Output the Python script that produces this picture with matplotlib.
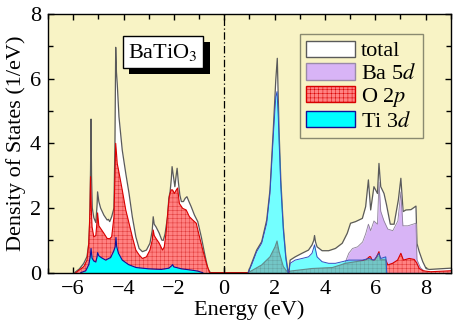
import matplotlib
matplotlib.use('Agg')
import matplotlib.pyplot as plt
import matplotlib.patheffects as pe
from matplotlib.patches import Patch
from matplotlib.ticker import MultipleLocator
import numpy as np

plt.rcParams['font.family'] = ['Liberation Serif', 'DejaVu Serif']
plt.rcParams['mathtext.fontset'] = 'stix'
plt.rcParams['hatch.linewidth'] = 0.35

# ---------------- data (energy in eV, DOS in 1/eV) ----------------
total_E = [-5.95, -5.75, -5.58, -5.45, -5.38, -5.34, -5.31, -5.29, -5.27, -5.24, -5.18, -5.10,
           -5.05, -5.03, -4.98, -4.91, -4.78, -4.65, -4.60, -4.55, -4.47, -4.38, -4.34, -4.31,
           -4.28, -4.25, -4.18, -4.05, -3.91, -3.78, -3.65, -3.51, -3.38, -3.25, -3.09, -2.95,
           -2.86, -2.82, -2.78, -2.71, -2.58, -2.48, -2.42, -2.35, -2.25, -2.20, -2.15, -2.10,
           -2.07, -2.02, -1.96, -1.91, -1.87, -1.82, -1.76, -1.70, -1.62, -1.55, -1.48, -1.40,
           -1.31, -1.18, -1.05, -0.91, -0.78, -0.65, -0.55,
           0.95, 1.09, 1.29, 1.49, 1.69, 1.82, 1.95, 2.05, 2.11, 2.18, 2.25, 2.35, 2.45, 2.53,
           2.57, 2.62, 2.82, 3.09, 3.35, 3.49, 3.56, 3.59, 3.63, 3.69, 3.89, 4.15, 4.42, 4.69,
           4.89, 5.02, 5.22, 5.49, 5.62, 5.73, 5.82, 5.95, 6.09, 6.15, 6.22, 6.35, 6.45, 6.60,
           6.75, 6.92, 7.02, 7.11, 7.22, 7.42, 7.62, 7.66, 7.75, 7.89, 8.02, 8.15, 8.55, 9.00]
total_dos = [0.00, 0.12, 0.29, 0.50, 0.90, 1.60, 3.20, 4.75, 3.00, 2.00, 1.70, 1.55,
             2.10, 2.50, 2.20, 2.00, 1.78, 1.63, 1.65, 1.58, 1.73, 2.00, 4.00, 6.97,
             6.20, 5.86, 4.82, 3.79, 3.07, 2.45, 1.73, 1.11, 0.75, 0.65, 0.70, 0.91,
             1.30, 1.73, 1.50, 1.42, 1.22, 1.01, 1.00, 1.20, 1.73, 2.30, 2.50, 2.90,
             3.28, 3.00, 2.66, 3.00, 3.23, 2.80, 2.40, 2.20, 2.20, 2.30, 2.35, 2.20,
             2.04, 1.78, 1.58, 1.11, 0.60, 0.13, 0.00,
             0.00, 0.29, 0.70, 0.96, 1.63, 2.56, 4.41, 5.96, 6.63, 4.41, 2.87, 1.42, 0.49, 0.08,
             0.00, 0.39, 0.49, 0.60, 0.70, 0.86, 1.00, 1.15, 0.95, 0.80, 0.68, 0.68, 0.75, 0.91,
             1.22, 1.53, 1.58, 1.68, 2.04, 2.87, 1.94, 2.66, 2.45, 3.38, 2.66, 2.45, 2.10, 1.50,
             1.50, 2.25, 2.92, 1.89, 1.94, 1.95, 2.06, 0.90, 0.65, 0.34, 0.13, 0.10, 0.12, 0.14]

ba5d_E = [0.95, 2.60, 3.50, 4.50, 4.80, 4.95, 5.10, 5.30, 5.50, 5.62, 5.73, 5.82, 5.95, 6.09,
          6.15, 6.22, 6.35, 6.50, 6.70, 6.90, 7.02, 7.10, 7.30, 7.50, 7.62, 7.66, 7.80, 8.00, 8.10]
ba5d_dos = [0.00, 0.02, 0.05, 0.15, 0.30, 0.60, 0.75, 0.80, 0.95, 1.20, 1.50, 1.30, 1.60, 1.50,
            2.80, 1.90, 1.60, 1.35, 1.30, 1.60, 2.50, 1.45, 1.45, 1.50, 1.53, 0.40, 0.15, 0.02, 0.00]

o2p_E = [-5.90, -5.58, -5.45, -5.38, -5.33, -5.31, -5.28, -5.25, -5.18, -5.10, -5.05, -5.03,
         -4.98, -4.91, -4.78, -4.65, -4.55, -4.47, -4.38, -4.34, -4.31, -4.27, -4.25, -4.18,
         -4.05, -3.91, -3.78, -3.65, -3.51, -3.38, -3.25, -3.09, -2.95, -2.86, -2.82, -2.78,
         -2.71, -2.58, -2.45, -2.38, -2.30, -2.25, -2.18, -2.11, -2.05, -1.98, -1.91, -1.85,
         -1.78, -1.65, -1.51, -1.38, -1.25, -1.11, -0.98, -0.85, -0.71, -0.58,
         0.95, 1.49, 1.82, 2.02, 2.10, 2.18, 2.35, 2.53, 2.62, 3.49, 4.30, 4.82, 5.22, 5.62,
         5.78, 5.82, 5.88, 6.00, 6.15, 6.20, 6.42, 6.50, 6.69, 6.89, 7.02, 7.12, 7.35, 7.55,
         7.65, 7.75, 7.90, 8.20, 9.00]
o2p_dos = [0.00, 0.19, 0.39, 0.90, 2.00, 2.97, 2.00, 1.42, 1.11, 1.15, 1.60, 1.85,
           1.45, 1.37, 1.22, 1.06, 1.05, 1.11, 1.73, 3.00, 4.00, 3.60, 3.38, 3.10,
           2.56, 1.94, 1.53, 1.11, 0.70, 0.55, 0.44, 0.49, 0.70, 1.00, 1.32, 1.15,
           1.06, 0.91, 0.70, 0.80, 1.30, 1.80, 2.35, 2.56, 2.56, 2.45, 2.55, 2.62,
           2.14, 1.99, 1.94, 1.73, 1.63, 1.53, 1.11, 0.70, 0.29, 0.00,
           0.00, 0.24, 0.49, 0.80, 0.98, 0.65, 0.19, 0.00, 0.05, 0.13, 0.16, 0.29, 0.34, 0.39,
           0.50, 0.49, 0.38, 0.40, 0.65, 0.40, 0.40, 0.24, 0.29, 0.39, 0.60, 0.39, 0.44, 0.41,
           0.30, 0.13, 0.06, 0.03, 0.06]

ti3d_E = [-5.70, -5.50, -5.38, -5.32, -5.29, -5.25, -5.18, -5.10, -5.05, -5.03, -4.98, -4.85,
          -4.71, -4.51, -4.40, -4.33, -4.30, -4.27, -4.20, -4.05, -3.80, -3.50, -3.00, -2.50,
          -2.20, -2.08, -2.05, -2.00, -1.70, -1.30, -1.05, -0.85,
          0.95, 1.09, 1.29, 1.49, 1.69, 1.82, 1.95, 2.05, 2.10, 2.15, 2.18, 2.25, 2.35, 2.45,
          2.53, 2.57, 2.62, 2.82, 3.09, 3.35, 3.49, 3.59, 3.69, 3.89, 4.15, 4.42, 4.69, 4.95,
          5.22, 5.49, 5.75, 5.95, 6.15, 6.22, 6.42, 6.46]
ti3d_dos = [0.00, 0.06, 0.25, 0.50, 0.75, 0.45, 0.36, 0.33, 0.50, 0.62, 0.52, 0.45,
            0.39, 0.47, 0.65, 0.80, 1.09, 0.80, 0.60, 0.39, 0.25, 0.16, 0.12, 0.10,
            0.14, 0.22, 0.25, 0.18, 0.12, 0.08, 0.05, 0.00,
            0.00, 0.24, 0.65, 0.91, 1.53, 2.45, 4.20, 5.44, 5.60, 4.80, 4.10, 2.66, 1.32, 0.44,
            0.02, 0.00, 0.29, 0.39, 0.44, 0.49, 0.60, 0.86, 0.49, 0.34, 0.29, 0.29, 0.34, 0.39,
            0.39, 0.39, 0.44, 0.39, 0.60, 0.44, 0.49, 0.00]

series_labels = ['total', 'Ba 5$d$', 'O 2$p$', 'Ti 3$d$']
x_ticks = [-6, -4, -2, 0, 2, 4, 6, 8]
y_ticks = [0, 2, 4, 6, 8]

# ---------------- style ----------------
BG = '#f8f3c5'
WHITE = 'white'
GRAY = '#5a5a5a'
PURPLE = '#d8b4f6'
RED = '#ff8282'
RED_EDGE = '#d80000'
HATCH_RED = '#e03838'
CYAN = '#00ffff'
BLUE = '#10109a'
FS = 16

fig = plt.figure(figsize=(4.58, 3.28), dpi=100)
ax = fig.add_axes([48 / 458, 55.3 / 328, 402.7 / 458, 258.7 / 328])
ax.set_facecolor(BG)

# total
ax.fill_between(total_E, total_dos, color=WHITE, lw=0, zorder=2)
ax.plot(total_E, total_dos, color=GRAY, lw=0.9, zorder=2.1)
# Ba 5d
ax.fill_between(ba5d_E, ba5d_dos, color=PURPLE, lw=0, zorder=3)
ax.plot(ba5d_E, ba5d_dos, color='#8c7f98', lw=0.6, zorder=3.1)
# O 2p
ax.fill_between(o2p_E, o2p_dos, facecolor=RED, edgecolor=HATCH_RED, hatch='++++', lw=0, zorder=4)
ax.plot(o2p_E, o2p_dos, color=RED_EDGE, lw=0.8, zorder=4.1)
# Ti 3d: opaque in valence band, translucent in conduction band
tE = np.array(ti3d_E)
tD = np.array(ti3d_dos)
val = tE < 0.3
ax.fill_between(tE[val], tD[val], color=CYAN, lw=0, zorder=5)
ax.fill_between(tE[~val], tD[~val], color=CYAN, alpha=0.55, lw=0, zorder=5)
ax.plot(tE[val], tD[val], color=BLUE, lw=0.8, zorder=5.1)
ax.plot(tE[~val], tD[~val], color='#3050c0', lw=0.7, zorder=5.1)

# Fermi level
ax.axvline(0, color='black', lw=0.9, dashes=(6, 2, 1, 2), zorder=6)

ax.set_xlim(-7, 9)
ax.set_ylim(0, 8)
ax.set_xticks(x_ticks)
ax.set_yticks(y_ticks)
ax.xaxis.set_minor_locator(MultipleLocator(1))
ax.yaxis.set_minor_locator(MultipleLocator(1))
ax.tick_params(which='both', direction='in', top=True, right=True, labelsize=FS, width=1)
ax.tick_params(which='major', length=4.5, pad=5)
ax.tick_params(which='minor', length=3.5)
for s in ax.spines.values():
    s.set_linewidth(1.0)
    s.set_zorder(7)

ax.set_xlabel('Energy (eV)', fontsize=FS, labelpad=1)
ax.set_ylabel('Density of States (1/eV)', fontsize=FS, labelpad=3)

handles = [
    Patch(facecolor=WHITE, edgecolor=GRAY, lw=1.0),
    Patch(facecolor=PURPLE, edgecolor='#9a8aa8', lw=1.0),
    Patch(facecolor=RED, edgecolor=RED_EDGE, hatch='++++', lw=1.0),
    Patch(facecolor=CYAN, edgecolor=BLUE, lw=1.0),
]
leg = ax.legend(handles, series_labels, loc='upper right', bbox_to_anchor=(0.93, 0.923),
                fontsize=FS, frameon=True, fancybox=False, framealpha=1,
                handlelength=2.2, handleheight=0.75, handletextpad=0.25,
                labelspacing=0.08, borderpad=0.3, borderaxespad=0.0)
leg.get_frame().set_facecolor(BG)
leg.get_frame().set_edgecolor('#8a8a70')
leg.get_frame().set_linewidth(1.0)
leg.set_zorder(8)

t = ax.text(0.2856, 0.853, 'BaTiO$_3$', transform=ax.transAxes, fontsize=FS,
            ha='center', va='center', zorder=9,
            bbox=dict(boxstyle='square,pad=0.25', facecolor='white', edgecolor='black', lw=1.0))
t.get_bbox_patch().set_path_effects([
    pe.withSimplePatchShadow(offset=(4.5, -4.5), shadow_rgbFace='black', alpha=1.0)])

fig.savefig('out.png', dpi=100)
